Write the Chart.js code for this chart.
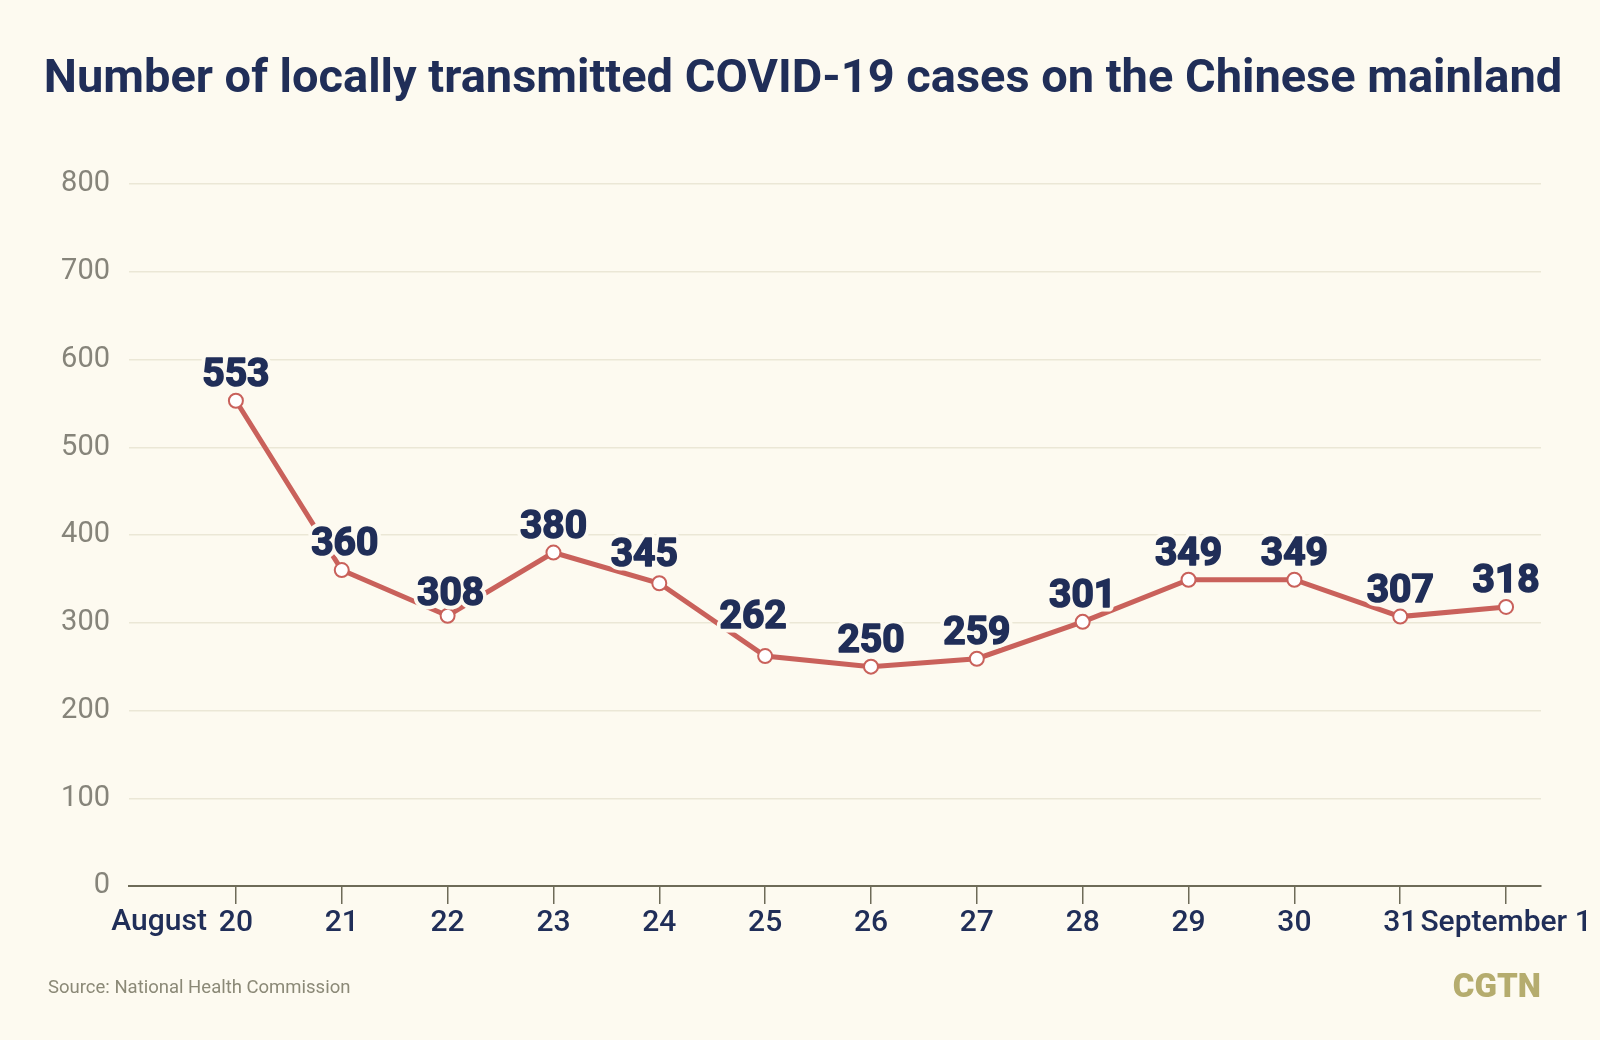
<!DOCTYPE html>
<html>
<head>
<meta charset="utf-8">
<script src="https://cdn.jsdelivr.net/npm/chart.js@4.4.0/dist/chart.umd.min.js"></script>
<style>
  html, body { margin: 0; padding: 0; background: #fdfaf0; }
  #wrap { width: 1600px; height: 1040px; }
</style>
</head>
<body>
<div id="wrap"><canvas id="c" width="1600" height="1040"></canvas></div>
<script>
// ---- data ----
const categories = ["20", "21", "22", "23", "24", "25", "26", "27", "28", "29", "30", "31", "September 1"];
const cases = [553, 360, 308, 380, 345, 262, 250, 259, 301, 349, 349, 307, 318];
const yTicks = [0, 100, 200, 300, 400, 500, 600, 700, 800];
const titleText = "Number of locally transmitted COVID-19 cases on the Chinese mainland";
const sourceText = "Source: National Health Commission";
const brandText = "CGTN";
const monthText = "August";

const BG = "#fdfaf0";
const NAVY = "#202e58";

const points = cases.map((v, i) => ({ x: i, y: v }));

const decorPlugin = {
  id: "decor",
  beforeDraw(chart) {
    const ctx = chart.ctx;
    ctx.save();
    ctx.fillStyle = BG;
    ctx.fillRect(0, 0, chart.width, chart.height);
    ctx.restore();
  },
  afterDraw(chart) {
    const ctx = chart.ctx;
    ctx.save();
    // title
    let size = 50;
    ctx.font = "700 " + size + "px Roboto";
    const w = ctx.measureText(titleText).width;
    size = Math.min(50, size * 1519 / w);
    ctx.font = "700 " + size + "px Roboto";
    ctx.fillStyle = NAVY;
    ctx.textAlign = "center";
    ctx.textBaseline = "alphabetic";
    ctx.fillText(titleText, 803, 92);

    // month prefix next to first tick
    const xs = chart.scales.x;
    ctx.font = "500 30px Roboto";
    ctx.textAlign = "right";
    ctx.textBaseline = "alphabetic";
    ctx.fillStyle = NAVY;
    ctx.fillText(monthText, xs.getPixelForValue(0) - 29, 930);

    // source
    ctx.font = "400 18.5px Roboto";
    ctx.textAlign = "left";
    ctx.textBaseline = "middle";
    ctx.fillStyle = "#8b8977";
    ctx.fillText(sourceText, 48, 988);

    // brand
    ctx.font = "900 33px Roboto";
    ctx.textAlign = "right";
    ctx.fillStyle = "#b5ac6e";
    ctx.fillText(brandText, 1541, 989);
    ctx.restore();
  }
};

const labelPlugin = {
  id: "valueLabels",
  afterDatasetsDraw(chart, args, opts) {
    const ctx = chart.ctx;
    const meta = chart.getDatasetMeta(0);
    ctx.save();
    ctx.font = "700 39px Roboto";
    ctx.textAlign = "center";
    ctx.textBaseline = "alphabetic";
    ctx.lineJoin = "round";
    meta.data.forEach((pt, i) => {
      const off = (opts.offsets && opts.offsets[i]) || [0, -29];
      const x = pt.x + off[0];
      const y = pt.y + off[1] + 14;
      const t = String(cases[i]);
      ctx.lineWidth = 9;
      ctx.strokeStyle = BG;
      ctx.strokeText(t, x, y);
      ctx.fillStyle = NAVY;
      ctx.fillText(t, x, y);
      ctx.lineWidth = 1.6;
      ctx.strokeStyle = NAVY;
      ctx.strokeText(t, x, y);
    });
    ctx.restore();
  }
};

new Chart(document.getElementById("c"), {
  type: "line",
  data: {
    datasets: [{
      data: points,
      borderColor: "#c9615b",
      borderWidth: 5,
      pointRadius: 7,
      pointBorderWidth: 2,
      pointBackgroundColor: "#ffffff",
      pointBorderColor: "#c9615b",
      tension: 0,
      clip: false
    }]
  },
  options: {
    responsive: false,
    animation: false,
    devicePixelRatio: 1,
    layout: { padding: { top: 184, left: 0, right: 59, bottom: 154 - 60 } },
    plugins: {
      legend: { display: false },
      title: { display: false },
      tooltip: { enabled: false },
      valueLabels: { offsets: { 1: [3, -29], 4: [-15, -31], 5: [-12, -42], 2: [3, -25] } }
    },
    scales: {
      x: {
        type: "linear",
        min: -1.01,
        max: 12.33,
        afterBuildTicks(scale) { scale.ticks = categories.map((c, i) => ({ value: i })); },
        afterFit(scale) { scale.height = 60; },
        grid: { drawOnChartArea: false, drawTicks: true, tickLength: 18, tickColor: "#6e6b58", lineWidth: 1.5 },
        border: { display: true, color: "#6e6b58", width: 2 },
        ticks: {
          autoSkip: false,
          maxRotation: 0,
          padding: 1,
          color: NAVY,
          font: { family: "Roboto", size: 30, weight: "500" },
          callback: (v) => categories[v]
        }
      },
      y: {
        min: 0,
        max: 800,
        afterBuildTicks(scale) { scale.ticks = yTicks.map(v => ({ value: v })); },
        afterFit(scale) { scale.width = 129; },
        grid: { color: "#ebe7d6", lineWidth: 1.5, drawTicks: false },
        border: { display: false },
        ticks: {
          padding: 19,
          color: "#86847a",
          font: { family: "Roboto", size: 29, weight: "400" }
        }
      }
    }
  },
  plugins: [decorPlugin, labelPlugin]
});
</script>
</body>
</html>
